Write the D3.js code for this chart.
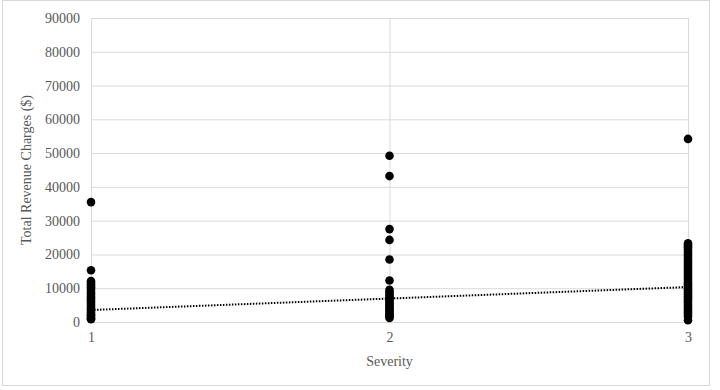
<!DOCTYPE html>
<html>
<head>
<meta charset="utf-8">
<script src="https://cdn.jsdelivr.net/npm/d3@7"></script>
<style>
  body { margin: 0; background: #fff; }
</style>
</head>
<body>
<div id="canvas"></div>
<script>
"use strict";

let svgWidth = 720;
let svgHeight = 390;
let margin = { top: 18, right: 32, bottom: 68, left: 91 };
let serifFont = "Liberation Serif";

/* === Data === */
let severityLevels = [1, 2, 3];
let yTicks = [0, 10000, 20000, 30000, 40000, 50000, 60000, 70000, 80000, 90000];

let chargesSev1 = [35500, 15300, 12100, 11500, 10900, 10300, 9800, 9200, 8600, 8100, 7500, 7000,
  6400, 5900, 5300, 4800, 4300, 3800, 3300, 2800, 2300, 1900, 1500, 1100, 800];
let chargesSev2 = [49200, 43200, 27500, 24300, 18500, 12300, 9500, 8900, 8300, 7700, 7200, 6600,
  6100, 5500, 5000, 4500, 4000, 3500, 3000, 2500, 2000, 1600, 1200];
let chargesSev3 = [54200, 23300, 22700, 22100, 21500, 20800, 20200, 19600, 19000, 18400, 17800,
  17200, 16600, 16000, 15400, 14800, 14200, 13600, 13000, 12400, 11800, 11200, 10600, 10000,
  9400, 8800, 8200, 7600, 7000, 6400, 5800, 5200, 4600, 4000, 3400, 2800, 2200, 1600, 500];

// linear trendline end values (at severity 1 and 3)
let trendSeverity = [1, 3];
let trendCharges = [3550, 10350];

let points = [];
[chargesSev1, chargesSev2, chargesSev3].forEach((arr, i) => {
  arr.forEach(v => points.push({ severity: severityLevels[i], charges: v }));
});

/* === Scales === */
let xScale = d3.scaleLinear()
  .domain([1, 3])
  .range([margin.left, svgWidth - margin.right]);

let yScale = d3.scaleLinear()
  .domain([0, 90000])
  .range([svgHeight - margin.bottom, margin.top]);

/* === SVG === */
let svg = d3.select("#canvas")
  .append("svg")
  .attr("width", svgWidth)
  .attr("height", svgHeight);

// chart border
svg.append("rect")
  .attr("x", 2.5).attr("y", 0.5)
  .attr("width", 707).attr("height", 385)
  .attr("fill", "#fff")
  .attr("stroke", "#d9d9d9");

/* === Gridlines === */
svg.append("g")
  .attr("transform", `translate(${margin.left}, 0)`)
  .call(d3.axisLeft(yScale).tickValues(yTicks)
    .tickSize(-(svgWidth - margin.left - margin.right)).tickFormat(""))
  .call(g => g.select(".domain").remove())
  .call(g => g.selectAll("line").attr("stroke", "#d9d9d9"));

svg.append("g")
  .attr("transform", `translate(0, ${margin.top})`)
  .call(d3.axisBottom(xScale).tickValues(severityLevels)
    .tickSize(svgHeight - margin.top - margin.bottom).tickFormat(""))
  .call(g => g.select(".domain").remove())
  .call(g => g.selectAll("line").attr("stroke", "#d9d9d9"));

/* === Axis labels === */
svg.append("g")
  .attr("transform", `translate(${margin.left}, 0)`)
  .call(d3.axisLeft(yScale).tickValues(yTicks).tickSize(0).tickPadding(11).tickFormat(d3.format("d")))
  .call(g => g.select(".domain").remove())
  .call(g => g.selectAll("text")
    .attr("font-family", serifFont).attr("font-size", 14).attr("fill", "#595959"));

svg.append("g")
  .attr("transform", `translate(0, ${svgHeight - margin.bottom})`)
  .call(d3.axisBottom(xScale).tickValues(severityLevels).tickSize(0).tickPadding(10).tickFormat(d3.format("d")))
  .call(g => g.select(".domain").attr("stroke", "#d9d9d9"))
  .call(g => g.selectAll("text")
    .attr("font-family", serifFont).attr("font-size", 14).attr("fill", "#595959"));

/* === Points === */
svg.selectAll("circle.pt")
  .data(points)
  .enter()
  .append("circle")
  .classed("pt", true)
  .attr("cx", d => xScale(d.severity))
  .attr("cy", d => yScale(d.charges))
  .attr("r", 4.3)
  .attr("fill", "#000");

/* === Trendline === */
svg.append("line")
  .attr("x1", xScale(trendSeverity[0]))
  .attr("y1", yScale(trendCharges[0]))
  .attr("x2", xScale(trendSeverity[1]))
  .attr("y2", yScale(trendCharges[1]))
  .attr("stroke", "#000")
  .attr("stroke-width", 2)
  .attr("stroke-dasharray", "1.5 1.5");

/* === Titles === */
svg.append("text")
  .attr("x", (margin.left + svgWidth - margin.right) / 2)
  .attr("y", 366)
  .attr("text-anchor", "middle")
  .attr("font-family", serifFont)
  .attr("font-size", 14)
  .attr("fill", "#595959")
  .text("Severity");

svg.append("text")
  .attr("transform", `translate(31, ${(margin.top + svgHeight - margin.bottom) / 2}) rotate(-90)`)
  .attr("text-anchor", "middle")
  .attr("font-family", serifFont)
  .attr("font-size", 14)
  .attr("fill", "#595959")
  .text("Total Revenue Charges ($)");
</script>
</body>
</html>
